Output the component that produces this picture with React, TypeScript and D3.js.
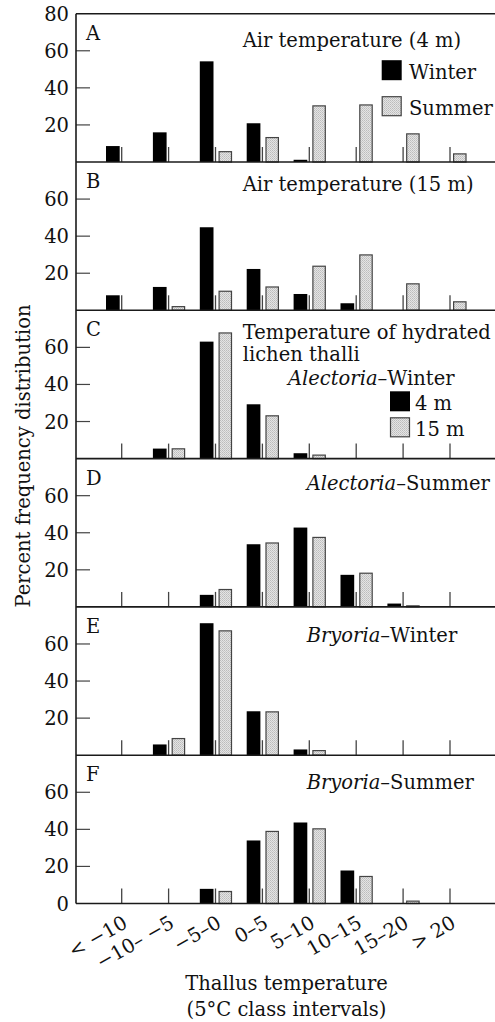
import React from "react";
import * as d3 from "d3";

// Temperature classes (5 °C intervals)
const categories = ["< −10", "−10– −5", "−5–0", "0–5", "5–10", "10–15", "15–20", "> 20"];

// A: air temperature at 4 m (percent of readings)
const air4mWinter = [8.6, 16.0, 54.3, 20.9, 1.2, 0, 0, 0];
const air4mSummer = [0, 0, 5.9, 13.5, 30.6, 31.1, 15.5, 4.7];
// B: air temperature at 15 m
const air15mWinter = [8.1, 12.6, 44.8, 22.3, 8.8, 3.8, 0, 0];
const air15mSummer = [0, 2.3, 10.6, 12.9, 24.1, 30.2, 14.6, 4.9];
// C: hydrated Alectoria thalli, winter (4 m / 15 m)
const alectoriaWinter4m = [0, 5.4, 63.1, 29.3, 2.9, 0, 0, 0];
const alectoriaWinter15m = [0, 5.6, 68.1, 23.4, 2.2, 0, 0, 0];
// D: Alectoria, summer
const alectoriaSummer4m = [0, 0, 6.5, 33.8, 42.8, 17.3, 1.8, 0];
const alectoriaSummer15m = [0, 0, 9.7, 34.8, 37.8, 18.5, 0.9, 0];
// E: Bryoria, winter
const bryoriaWinter4m = [0, 5.8, 71.2, 23.7, 3.1, 0, 0, 0];
const bryoriaWinter15m = [0, 9.3, 67.4, 23.7, 2.8, 0, 0, 0];
// F: Bryoria, summer
const bryoriaSummer4m = [0, 0, 7.9, 34.0, 43.7, 17.8, 0, 0];
const bryoriaSummer15m = [0, 0, 6.8, 39.2, 40.6, 14.9, 1.6, 0];

const panelLetters = ["A", "B", "C", "D", "E", "F"];
const darkSeries = [air4mWinter, air15mWinter, alectoriaWinter4m, alectoriaSummer4m, bryoriaWinter4m, bryoriaSummer4m];
const lightSeries = [air4mSummer, air15mSummer, alectoriaWinter15m, alectoriaSummer15m, bryoriaWinter15m, bryoriaSummer15m];
const yTickValues = [20, 40, 60];

const W = 495;
const H = 1022;
const FONT = "'DejaVu Serif', serif";
const FS = 19.5;
const LEFT = 76;
const RIGHT = 495;
const TOP = 13.7;
const PANEL_H = 148.3;
const INK = "#111";
const GREY = "#444";

const x = d3.scalePoint<string>().domain(categories).range([121.7, 450]);

function Annotation({ index, top }: { index: number; top: number }) {
  const t = { fontFamily: FONT, fontSize: FS, fill: INK } as const;
  if (index === 0) {
    return (
      <g>
        <text x={242.7} y={top + 33} {...t}>Air temperature (4 m)</text>
        <rect x={381.7} y={top + 46.5} width={20} height={20} fill="#000" />
        <text x={409} y={top + 65.5} {...t}>Winter</text>
        <rect x={382.2} y={top + 83} width={19} height={19} fill="url(#stipple)" stroke={GREY} strokeWidth={1.2} />
        <text x={409} y={top + 101.5} {...t}>Summer</text>
      </g>
    );
  }
  if (index === 1) {
    return <text x={242.7} y={top + 29} {...t}>Air temperature (15 m)</text>;
  }
  if (index === 2) {
    return (
      <g>
        <text x={242.7} y={top + 28.5} {...t}>Temperature of hydrated</text>
        <text x={242.7} y={top + 51} {...t}>lichen thalli</text>
        <text x={288} y={top + 74.5} {...t}>
          <tspan fontStyle="italic">Alectoria</tspan>–Winter
        </text>
        <rect x={390} y={top + 81} width={20} height={20} fill="#000" />
        <text x={415} y={top + 99.5} {...t}>4 m</text>
        <rect x={390.5} y={top + 107.5} width={19} height={19} fill="url(#stipple)" stroke={GREY} strokeWidth={1.2} />
        <text x={415} y={top + 125.5} {...t}>15 m</text>
      </g>
    );
  }
  const titles = ["", "", "", "Alectoria", "Bryoria", "Bryoria"];
  const seasons = ["", "", "", "–Summer", "–Winter", "–Summer"];
  const dy = [0, 0, 0, 31, 35, 34];
  return (
    <text x={306.7} y={top + dy[index]} {...t}>
      <tspan fontStyle="italic">{titles[index]}</tspan>
      {seasons[index]}
    </text>
  );
}

export default function App() {
  const panels = panelLetters.map((letter, i) => {
    const base = TOP + PANEL_H * (i + 1);
    const top = base - PANEL_H;
    const y = d3.scaleLinear().domain([0, 80]).range([base, top]);
    const ticks = [...yTickValues];
    if (i === 0) ticks.push(80);
    if (i === panelLetters.length - 1) ticks.unshift(0);
    return { letter, i, base, top, y, ticks };
  });

  const bottom = panels[panels.length - 1].base;

  return (
    <svg
      width={W}
      height={H}
      viewBox={`0 0 ${W} ${H}`}
      style={{ position: "absolute", left: 0, top: 0, background: "#fff" }}
    >
      <defs>
        <pattern id="stipple" width={2} height={2} patternUnits="userSpaceOnUse">
          <rect width={2} height={2} fill="#e4e4e4" />
          <rect width={1} height={1} fill="#bcbcbc" />
          <rect x={1} y={1} width={1} height={1} fill="#c8c8c8" />
        </pattern>
      </defs>
      <rect width={W} height={H} fill="#fff" />

      {panels.map(({ letter, i, base, top, y, ticks }) => (
        <g key={letter}>
          {/* class tick marks standing on the baseline */}
          {categories.map((c) => (
            <line
              key={c}
              x1={x(c)!}
              x2={x(c)!}
              y1={base}
              y2={base - 15}
              stroke={GREY}
              strokeWidth={1.3}
            />
          ))}
          {/* dark bars (winter / 4 m) */}
          {darkSeries[i].map((v, k) =>
            v > 0 ? (
              <rect
                key={`d${k}`}
                x={x(categories[k])! - 15.7}
                y={y(v)}
                width={13.7}
                height={base - y(v)}
                fill="#000"
              />
            ) : null
          )}
          {/* stippled bars (summer / 15 m) */}
          {lightSeries[i].map((v, k) =>
            v > 0 ? (
              <rect
                key={`l${k}`}
                x={x(categories[k])! + 3.6}
                y={y(v) + 0.6}
                width={12.4}
                height={base - y(v) - 0.6}
                fill="url(#stipple)"
                stroke={GREY}
                strokeWidth={1.2}
              />
            ) : null
          )}
          {/* y ticks and labels */}
          {ticks.map((t) => (
            <g key={t}>
              {t > 0 && t < 80 ? (
                <line x1={LEFT} x2={LEFT + 14} y1={y(t)} y2={y(t)} stroke={GREY} strokeWidth={1.2} />
              ) : null}
              <text
                x={69}
                y={y(t)}
                dy="0.36em"
                textAnchor="end"
                fontFamily={FONT}
                fontSize={FS}
                fill={INK}
              >
                {t}
              </text>
            </g>
          ))}
          <text x={86} y={top + 26} fontFamily={FONT} fontSize={FS} fill={INK}>
            {letter}
          </text>
          <Annotation index={i} top={top} />
          {/* panel baseline */}
          <line x1={LEFT} x2={RIGHT} y1={base} y2={base} stroke="#1a1a1a" strokeWidth={1.6} />
        </g>
      ))}

      {/* frame: top edge and shared left axis */}
      <line x1={LEFT} x2={RIGHT} y1={TOP} y2={TOP} stroke="#1a1a1a" strokeWidth={1.4} />
      <line x1={LEFT} x2={LEFT} y1={TOP} y2={bottom} stroke="#1a1a1a" strokeWidth={1.6} />

      {/* class labels */}
      {categories.map((c) => (
        <text
          key={c}
          transform={`translate(${x(c)! + 7},${bottom + 23}) rotate(-30)`}
          textAnchor="end"
          fontFamily={FONT}
          fontSize={FS}
          fill={INK}
        >
          {c}
        </text>
      ))}

      <text x={286.5} y={990} textAnchor="middle" fontFamily={FONT} fontSize={FS} fill={INK}>
        Thallus temperature
      </text>
      <text x={286.5} y={1016} textAnchor="middle" fontFamily={FONT} fontSize={FS} fill={INK}>
        (5°C class intervals)
      </text>

      <text
        transform="translate(30,456) rotate(-90)"
        textAnchor="middle"
        fontFamily={FONT}
        fontSize={FS}
        fill={INK}
      >
        Percent frequency distribution
      </text>
    </svg>
  );
}
